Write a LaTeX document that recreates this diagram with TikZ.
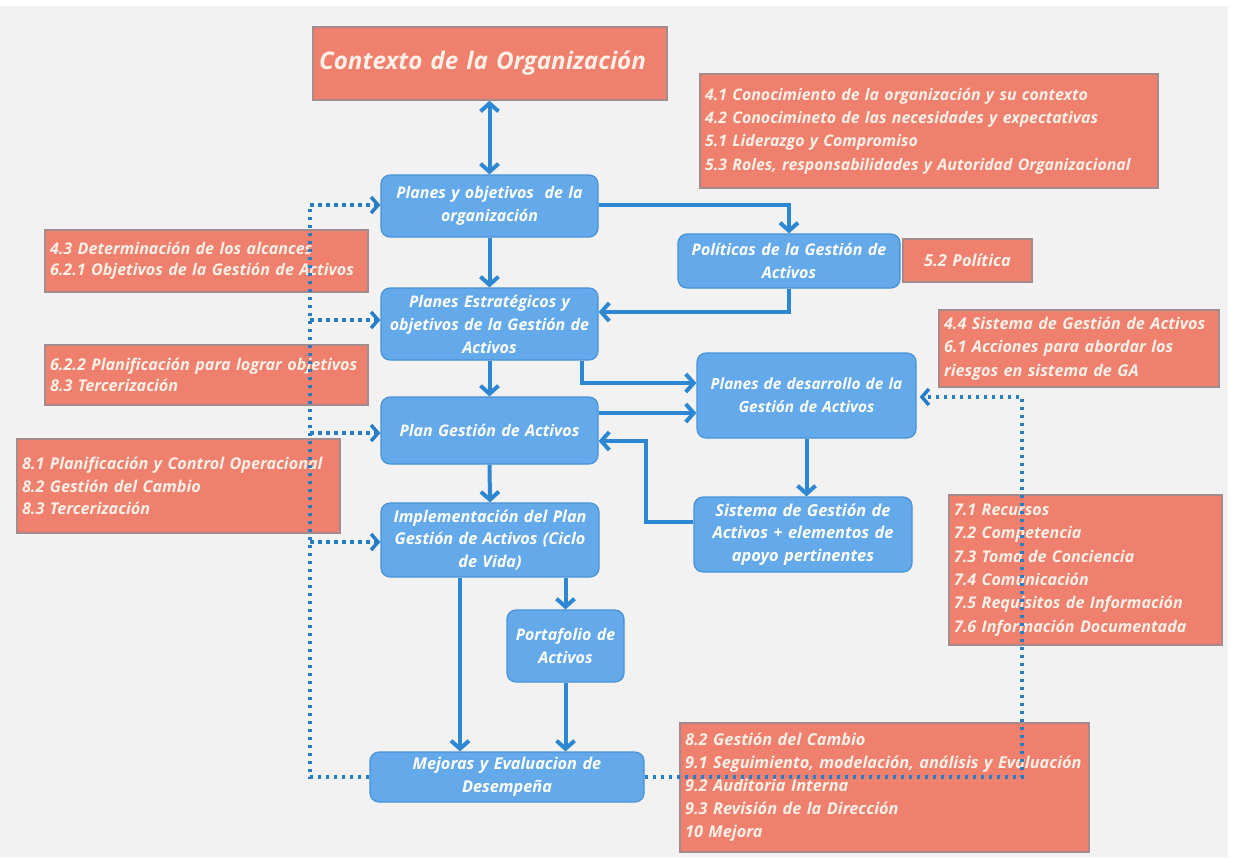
\documentclass[tikz,border=0pt]{standalone}
\usepackage{fontspec}
\setmainfont{Open Sans}
\usetikzlibrary{arrows.meta}
\definecolor{bg}{RGB}{242,242,243}
\definecolor{salmon}{RGB}{240,128,110}
\definecolor{rbord}{RGB}{165,140,140}
\definecolor{rtext}{RGB}{255,240,232}
\definecolor{bfill}{RGB}{100,170,235}
\definecolor{bbord}{RGB}{72,146,215}
\definecolor{ablue}{RGB}{45,135,210}
\definecolor{dblue}{RGB}{40,125,200}
\newcommand\fsz[2]{\bfseries\itshape\fontsize{#1}{#2}\selectfont}
\begin{document}
\begin{tikzpicture}[x=1pt,y=-1pt,
  redbox/.style={draw=rbord, line width=1.4pt, fill=salmon, text=rtext, inner xsep=5pt, inner ysep=1pt, align=left,
    font=\fsz{16.2}{21}},
  bluebox/.style={draw=bbord, line width=1.2pt, fill=bfill, rounded corners=9pt, text=white, align=center, inner xsep=3pt, inner ysep=1pt,
    font=\fsz{16}{23}},
  flow/.style={draw=ablue, line width=4pt, -{Straight Barb[length=8pt,width=18pt]}},
  flow2/.style={draw=ablue, line width=4pt, {Straight Barb[length=8pt,width=18pt]}-{Straight Barb[length=8pt,width=18pt]}},
  dots/.style={draw=dblue, line width=3.5pt, dash pattern=on 3.5pt off 4.5pt},
  dotarrow/.style={dots, -{Straight Barb[length=7pt,width=16pt,line width=3.5pt]}},
]
\fill[white] (0,0) rectangle (1233,857);
\fill[bg] (0,6) rectangle (1228,857);

% red boxes
\node[redbox, minimum width=354pt, minimum height=73pt, text width=342pt,
  font=\fsz{24.2}{28}] (ctx) at (490,63.5) {Contexto de la Organización};
\node[redbox, minimum width=458pt, minimum height=114pt, text width=448pt, font=\fsz{15.9}{23.3}] (r41) at (929,131)
  {4.1 Conocimiento de la organización y su contexto\\4.2 Conocimineto de las necesidades y expectativas\\5.1 Liderazgo y Compromiso\\5.3 Roles, responsabilidades y Autoridad Organizacional};
\node[redbox, minimum width=129pt, minimum height=43pt, text width=119pt, align=center, font=\fsz{16.5}{21}] (r52) at (967.5,260.5) {5.2 Política};
\node[redbox, minimum width=323pt, minimum height=62pt, text width=313pt, font=\fsz{16.1}{20.5}] (r43) at (206.5,261)
  {4.3 Determinación de los alcances\\6.2.1 Objetivos de la Gestión de Activos};
\node[redbox, minimum width=323pt, minimum height=60pt, text width=313pt, font=\fsz{16.2}{20.5}] (r622) at (206.5,375)
  {6.2.2 Planificación para lograr objetivos\\8.3 Tercerización};
\node[redbox, minimum width=280pt, minimum height=77pt, text width=270pt, font=\fsz{16.2}{23.5}] (r44) at (1079,348.5)
  {4.4 Sistema de Gestión de Activos\\6.1 Acciones para abordar los\\riesgos en sistema de GA};
\node[redbox, minimum width=323pt, minimum height=94pt, text width=313pt, font=\fsz{16.2}{22.3}] (r81) at (178.5,486)
  {8.1 Planificación y Control Operacional\\8.2 Gestión del Cambio\\8.3 Tercerización};
\node[redbox, minimum width=273pt, minimum height=150pt, text width=263pt, font=\fsz{16.1}{23.3}] (r71) at (1085.5,570)
  {7.1 Recursos\\7.2 Competencia\\7.3 Toma de Conciencia\\7.4 Comunicación\\7.5 Requisitos de Información\\7.6 Información Documentada};
\node[redbox, minimum width=409pt, minimum height=129pt, text width=399pt, font=\fsz{16.35}{23}] (r82) at (884.5,787.5)
  {8.2 Gestión del Cambio\\9.1 Seguimiento, modelación, análisis y Evaluación\\9.2 Auditoria Interna\\9.3 Revisión de la Dirección\\10 Mejora};

% blue boxes
\node[bluebox, minimum width=217pt, minimum height=62pt, text width=211pt] (pyo) at (489.5,206) {Planes y objetivos\ \ de la\\organización};
\node[bluebox, minimum width=222pt, minimum height=54pt, text width=216pt] (pol) at (789,261) {Políticas de la Gestión de\\Activos};
\node[bluebox, minimum width=217pt, minimum height=72pt, text width=211pt] (pest) at (489.5,324) {Planes Estratégicos y\\objetivos de la Gestión de\\Activos};
\node[bluebox, minimum width=219pt, minimum height=85pt, text width=213pt, font=\fsz{15.4}{23}] (pdes) at (806.5,395.5) {Planes de desarrollo de la\\Gestión de Activos};
\node[bluebox, minimum width=217pt, minimum height=67pt, text width=211pt] (pga) at (489.5,430.5) {Plan Gestión de Activos};
\node[bluebox, minimum width=218pt, minimum height=74pt, text width=212pt, font=\fsz{16.2}{22.5}] (impl) at (490,540) {Implementación del Plan\\Gestión de Activos (Ciclo\\de Vida)};
\node[bluebox, minimum width=218pt, minimum height=75pt, text width=212pt, font=\fsz{16.4}{22.5}] (sist) at (803,534.5) {Sistema de Gestión de\\Activos + elementos de\\apoyo pertinentes};
\node[bluebox, minimum width=117pt, minimum height=72pt, text width=111pt] (port) at (565.5,646) {Portafolio de\\Activos};
\node[bluebox, minimum width=274pt, minimum height=50pt, text width=268pt, font=\fsz{16.3}{23}] (mej) at (507,777) {Mejoras y Evaluacion de\\Desempeña};

% solid connectors
\draw[flow2] (pyo.north |- ctx.south) -- (pyo.north);
\draw[flow] (pyo.south) -- (pest.north);
\draw[flow] ([yshift=1pt]pyo.east) -| (pol.north);
\draw[flow] (pol.south) |- ([yshift=12pt]pest.east);
\draw[flow] ([xshift=92.5pt]pest.south) |- ([yshift=12.5pt]pdes.west);
\draw[flow] (pest.south) -- (pga.north);
\draw[flow] ([yshift=17.5pt]pga.east) -- ([yshift=17.5pt]pga.east -| pdes.west);
\draw[flow] ([yshift=12.5pt]sist.west) -- ++(-47,0) |- ([yshift=-10.5pt]pga.east);
\draw[flow] (pdes.south) -- (pdes.south |- sist.north);
\draw[flow] (pga.south) -- (impl.north);
\draw[flow] ([xshift=-30pt]impl.south) -- ([xshift=-30pt]impl.south |- mej.north);
\draw[flow] (port.north |- impl.south) -- (port.north);
\draw[flow] (port.south) -- (port.south |- mej.north);

% dotted connectors
\coordinate (vl) at (310,0);
\coordinate (vr) at (1022,0);
\draw[dots] (mej.west) -- (vl |- mej.west) -- (vl |- pyo.west);
\draw[dotarrow] ([yshift=1pt]vl |- pyo.west) -- ([yshift=1pt]pyo.west);
\draw[dotarrow] ([yshift=4pt]vl |- pest.west) -- ([yshift=4pt]pest.west);
\draw[dotarrow] ([yshift=-2.5pt]vl |- pga.west) -- ([yshift=-2.5pt]pga.west);
\draw[dotarrow] ([yshift=-2pt]vl |- impl.west) -- ([yshift=-2pt]impl.west);
\draw[dotarrow] (mej.east) -- (vr |- mej.east) -- ([yshift=-1.5pt]vr |- pdes.east) -- ([xshift=3pt,yshift=-1.5pt]pdes.east);
\end{tikzpicture}
\end{document}
